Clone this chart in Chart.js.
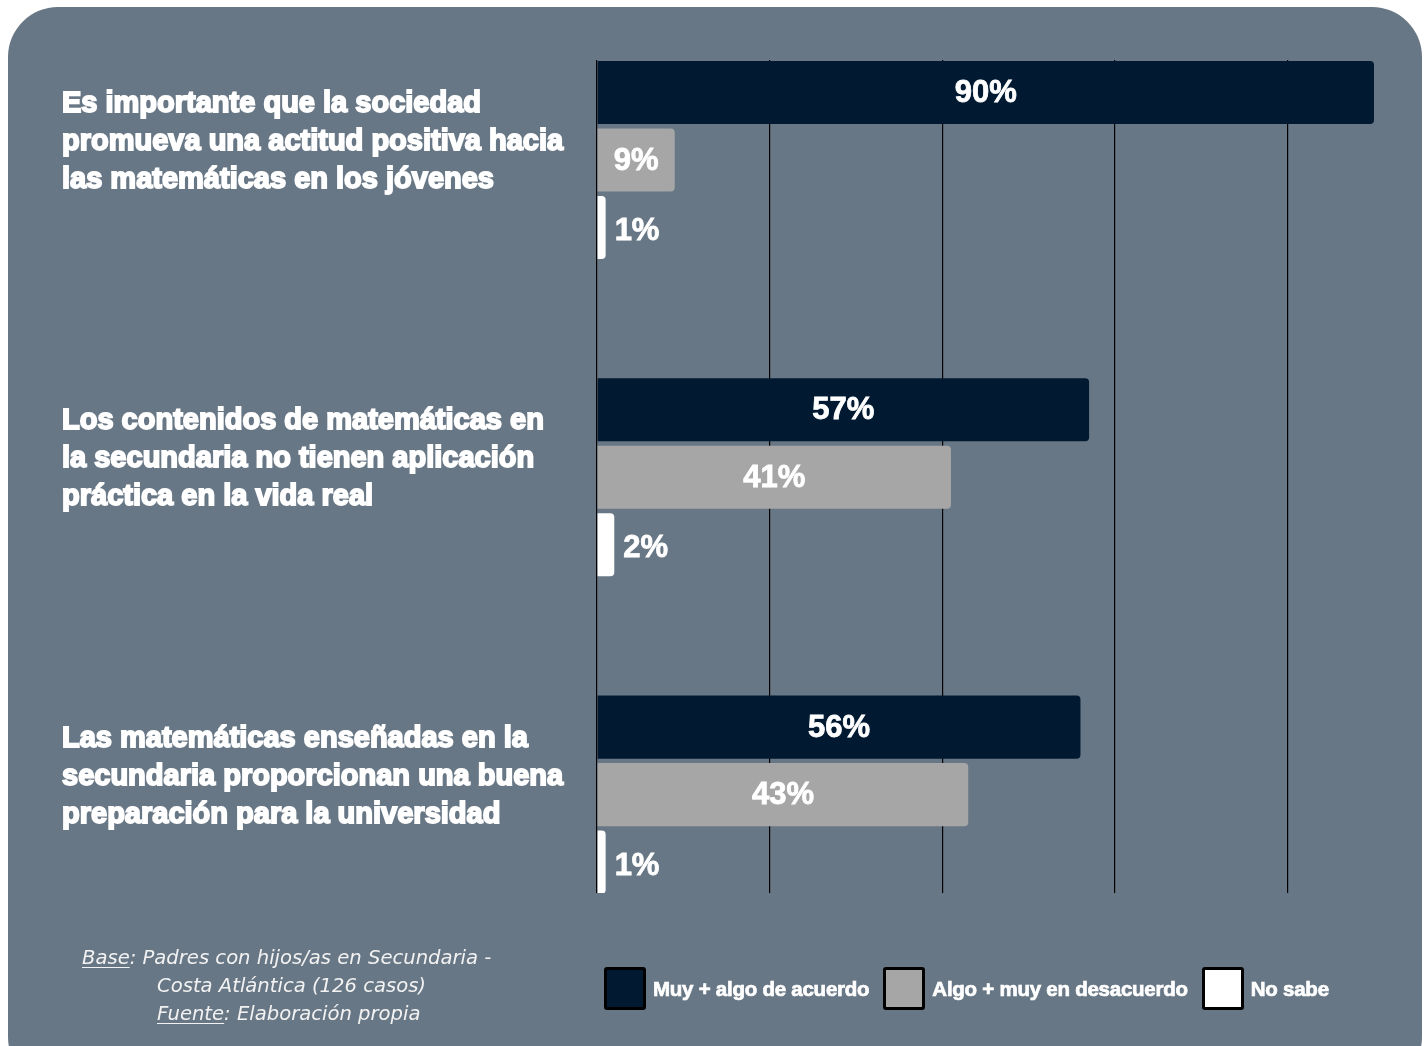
<!DOCTYPE html>
<html lang="es">
<head>
<meta charset="utf-8">
<title>Actitudes hacia las matemáticas</title>
<script src="https://cdn.jsdelivr.net/npm/chart.js@4.4.1/dist/chart.umd.min.js"></script>
<style>
  html, body { margin: 0; padding: 0; background: #ffffff; }
  #stage { position: relative; width: 1427px; height: 1046px; overflow: hidden; }
  #panel {
    position: absolute; left: 8px; top: 7px; width: 1414px; height: 1080px;
    background: #687785; border-radius: 50px;
  }
  #chart { position: absolute; left: 0; top: 0; }
  #note {
    position: absolute; left: 82px; top: 944px;
    font-family: "DejaVu Sans", sans-serif; font-style: italic;
    font-size: 19.6px; line-height: 28px; color: #f2f2f2; white-space: nowrap;
  }
  #note .indent { padding-left: 75px; }
  #note u { text-underline-offset: 3px; }
  #legend {
    position: absolute; left: 604px; top: 967px; display: flex; align-items: center;
    font-family: "Liberation Sans", Arial, sans-serif; font-weight: bold; font-size: 20.5px;
    color: #ffffff; letter-spacing: -0.25px; -webkit-text-stroke: 0.7px #ffffff;
  }
  #legend .item { display: flex; align-items: center; margin-right: 14px; }
  #legend .box {
    width: 36px; height: 37px; border: 3px solid #000; border-radius: 3px; margin-right: 7px;
  }
</style>
</head>
<body>
<div id="stage">
  <div id="panel"></div>
  <canvas id="chart" width="1427" height="1046"></canvas>
  <div id="legend"></div>
  <div id="note">
    <div><u>Base</u>: Padres con hijos/as en Secundaria -</div>
    <div class="indent">Costa Atlántica (126 casos)</div>
    <div class="indent"><u>Fuente</u>: Elaboración propia</div>
  </div>
</div>

<script>
// Afirmaciones (cada una partida en las líneas con que se muestra)
const statements = [
    ['Es importante que la sociedad', 'promueva una actitud positiva hacia', 'las matemáticas en los jóvenes'],
    ['Los contenidos de matemáticas en', 'la secundaria no tienen aplicación', 'práctica en la vida real'],
    ['Las matemáticas enseñadas en la', 'secundaria proporcionan una buena', 'preparación para la universidad']
];

const seriesNames = ['Muy + algo de acuerdo', 'Algo + muy en desacuerdo', 'No sabe'];
const seriesColors = ['#011a32', '#a6a6a6', '#ffffff'];

// Porcentajes por afirmación
const acuerdo = [90, 57, 56];
const desacuerdo = [9, 41, 43];
const noSabe = [1, 2, 1];

const gridTicks = [0, 20, 40, 60, 80];

const seriesValues = [acuerdo, desacuerdo, noSabe];

const datasets = seriesValues.map((values, s) => ({
    label: seriesNames[s],
    data: values.map((v, i) => ({ x: v, y: i })),
    backgroundColor: seriesColors[s],
    borderWidth: 0,
    borderRadius: 4,
    borderSkipped: 'start',
    categoryPercentage: 0.638,
    barPercentage: 0.935
}));

// Etiquetas de porcentaje: dentro de la barra, o a la derecha si la barra es blanca
const valueLabels = {
    id: 'valueLabels',
    afterDatasetsDraw(chart) {
        const ctx = chart.ctx;
        ctx.save();
        ctx.font = 'bold 31px "Liberation Sans", Arial, sans-serif';
        ctx.fillStyle = '#ffffff';
        ctx.strokeStyle = '#ffffff';
        ctx.lineWidth = 0.8;
        ctx.textBaseline = 'middle';
        chart.data.datasets.forEach((ds, di) => {
            chart.getDatasetMeta(di).data.forEach((bar, i) => {
                const text = ds.data[i].x + '%';
                let x = (bar.base + bar.x) / 2;
                let y = bar.y + 1;
                ctx.textAlign = 'center';
                if (di === 2) {
                    ctx.textAlign = 'left';
                    x = bar.x + 9;
                    y = bar.y + 4;
                }
                ctx.fillText(text, x, y);
                ctx.strokeText(text, x, y);
            });
        });
        ctx.restore();
    }
};

const chart = new Chart(document.getElementById('chart'), {
    type: 'bar',
    data: { datasets },
    options: {
        indexAxis: 'y',
        responsive: false,
        animation: false,
        devicePixelRatio: 1,
        layout: { padding: { left: 62, right: 53, top: 60, bottom: 153 } },
        plugins: {
            legend: { display: false },
            tooltip: { enabled: false }
        },
        scales: {
            x: {
                type: 'linear',
                min: 0,
                max: 90,
                ticks: { display: false, stepSize: 20 },
                grid: {
                    drawTicks: false,
                    lineWidth: 1.2,
                    color: c => gridTicks.includes(c.tick.value) ? '#000000' : 'rgba(0,0,0,0)'
                },
                border: { display: false }
            },
            y: {
                type: 'linear',
                reverse: true,
                offset: false,
                min: -0.315,
                max: 2.31,
                afterBuildTicks: scale => {
                    scale.ticks = statements.map((_, i) => ({ value: i }));
                },
                afterFit: scale => { scale.width = 535; },
                ticks: {
                    crossAlign: 'far',
                    labelOffset: -18,
                    color: '#ffffff',
                    textStrokeColor: '#ffffff',
                    textStrokeWidth: 1.8,
                    font: { family: '"Liberation Sans", Arial, sans-serif', weight: 'bold', size: 29, lineHeight: 1.31 },
                    callback: value => statements[value]
                },
                grid: { display: false, offset: false },
                border: { display: false }
            }
        }
    },
    plugins: [valueLabels]
});

// Leyenda
const legendEl = document.getElementById('legend');
seriesNames.forEach((name, s) => {
    const item = document.createElement('div');
    item.className = 'item';
    const box = document.createElement('span');
    box.className = 'box';
    box.style.background = seriesColors[s];
    const label = document.createElement('span');
    label.textContent = name;
    item.appendChild(box);
    item.appendChild(label);
    legendEl.appendChild(item);
});
</script>
</body>
</html>
